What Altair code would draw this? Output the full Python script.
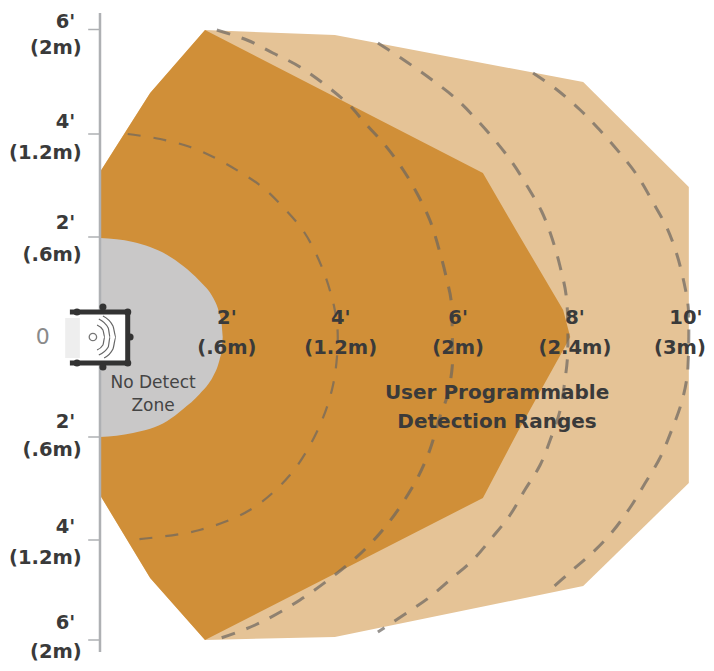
import altair as alt
import pandas as pd

# All distances in feet from the sensor (x: forward, y: lateral)
outer_x = [0, 0.85, 1.78, 3.98, 8.19, 9.98]
outer_top = [3.30, 4.88, 6.14, 6.04, 5.10, 3.00]
outer_bot = [-3.16, -4.82, -6.06, -6.00, -4.98, -2.92]

inner_x = [0, 0.85, 1.78, 6.49, 7.07, 7.85, 7.97]
inner_top = [3.30, 4.88, 6.14, 3.28, 2.10, 0.54, 0]
inner_bot = [-3.16, -4.82, -6.06, -3.22, -1.92, -0.26, 0]

zone_x = [0, 0.56, 1.14, 1.41, 1.69, 1.92, 1.99, 2.03, 2.06, 2.08]
zone_top = [1.98, 1.90, 1.64, 1.42, 1.12, 0.78, 0.60, 0.44, 0.28, 0]
zone_bot = [-2.0, -1.92, -1.68, -1.44, -1.14, -0.78, -0.60, -0.44, -0.28, 0]

arc4_x = [0.47, 1.02, 1.53, 1.92, 2.37, 2.75, 3.10, 3.47, 3.78, 3.98, 4.03, 3.95, 3.69, 3.22, 2.54, 1.69, 0.85, 0.46]
arc4_y = [4.06, 3.96, 3.80, 3.60, 3.30, 3.00, 2.60, 2.08, 1.34, 0.54, 0, -0.96, -1.86, -2.76, -3.46, -3.86, -4.02, -4.06]
arc6_x = [1.98, 2.49, 2.93, 3.39, 4.19, 4.49, 4.83, 5.14, 5.37, 5.59, 5.75, 5.88, 5.95, 5.97, 5.97, 5.88, 5.76, 5.59, 5.39, 5.14, 4.86, 4.53, 4.15, 3.39, 2.63, 1.95]
arc6_y = [6.14, 5.94, 5.68, 5.40, 4.68, 4.28, 3.84, 3.34, 2.88, 2.34, 1.74, 1.14, 0.74, 0.08, -0.60, -1.20, -1.60, -2.26, -2.80, -3.30, -3.76, -4.20, -4.60, -5.26, -5.76, -6.06]
arc8_x = [4.71, 5.20, 5.63, 6.02, 6.36, 6.69, 6.98, 7.25, 7.49, 7.66, 7.80, 7.90, 7.93, 7.92, 7.88, 7.80, 7.63, 7.46, 7.20, 6.95, 6.64, 6.32, 5.97, 5.59, 5.20, 4.71]
arc8_y = [5.88, 5.50, 5.14, 4.78, 4.38, 3.94, 3.50, 3.00, 2.50, 1.98, 1.40, 0.84, 0.14, -0.46, -0.86, -1.46, -2.06, -2.56, -3.06, -3.56, -4.02, -4.46, -4.82, -5.20, -5.52, -5.90]
arc10_x = [7.34, 7.75, 8.14, 8.47, 8.81, 9.10, 9.37, 9.61, 9.78, 9.90, 9.97, 9.98, 9.97, 9.95, 9.86, 9.69, 9.49, 9.24, 8.98, 8.68, 8.34, 7.97, 7.59]
arc10_y = [5.28, 4.94, 4.54, 4.14, 3.68, 3.24, 2.70, 2.18, 1.64, 1.08, 0.60, 0.08, -0.46, -0.80, -1.30, -1.86, -2.42, -2.92, -3.42, -3.90, -4.32, -4.70, -5.10]

tick_y = [6.15, 4.06, 2.0, -2.0, -4.06, -6.06]

side_text = ["6'", "(2m)", "4'", "(1.2m)", "2'", "(.6m)", "2'", "(.6m)", "4'", "(1.2m)", "6'", "(2m)"]
side_y = [6.30, 5.78, 4.30, 3.68, 2.28, 1.64, -1.70, -2.26, -3.80, -4.42, -5.72, -6.30]
side_x = [-0.42, -0.31, -0.42, -0.31, -0.42, -0.31, -0.42, -0.31, -0.42, -0.31, -0.42, -0.31]

range_text = ["2'", "(.6m)", "4'", "(1.2m)", "6'", "(2m)", "8'", "(2.4m)", "10'", "(3m)"]
range_x = [2.15, 2.15, 4.08, 4.08, 6.07, 6.07, 8.05, 8.05, 9.93, 9.83]
range_y = [0.38, -0.22, 0.38, -0.22, 0.38, -0.22, 0.38, -0.22, 0.38, -0.22]

note_text = ["User Programmable", "Detection Ranges"]
note_x = [6.73, 6.73]
note_y = [-1.12, -1.70]
zone_text = ["No Detect", "Zone"]
zone_tx = [0.90, 0.90]
zone_ty = [-0.92, -1.38]

# Sensor icon
frame_x = [-0.51, 0.47, 0.47, -0.51]
frame_y = [0.50, 0.50, -0.52, -0.52]
dot_x = [0.05, 0.05, 0.51, -0.39, -0.39, 0.47, 0.47]
dot_y = [0.60, -0.60, 0, 0.50, -0.52, 0.50, -0.52]
wave1_x = [-0.05, 0.05, 0.08, 0.05, -0.05]
wave1_y = [0.24, 0.14, 0, -0.16, -0.26]
wave2_x = [-0.02, 0.14, 0.17, 0.14, -0.02]
wave2_y = [0.36, 0.18, 0, -0.20, -0.36]
wave3_x = [0.05, 0.22, 0.27, 0.22, 0.07]
wave3_y = [0.42, 0.22, 0, -0.24, -0.42]

X = alt.X("x:Q", axis=None, scale=alt.Scale(domain=[-1.559, 10.271], nice=False, zero=False))
Y = alt.Y("y:Q", axis=None, scale=alt.Scale(domain=[-6.52, 6.58], nice=False, zero=False))
FONT = "DejaVu Sans"


def area(xs, top, bot, color, interp="linear"):
    df = pd.DataFrame({"x": xs, "y": top, "y2": bot})
    return alt.Chart(df).mark_area(color=color, orient="vertical", opacity=1, interpolate=interp).encode(x=X, y=Y, y2="y2:Q")


def path(xs, ys, color, width, dash=None, opacity=1.0, interp="linear"):
    df = pd.DataFrame({"x": xs, "y": ys, "i": range(len(xs))})
    kw = {"strokeDash": dash} if dash else {}
    return alt.Chart(df).mark_line(color=color, strokeWidth=width, opacity=opacity, interpolate=interp, **kw).encode(x=X, y=Y, order="i:Q")


def text(labels, xs, ys, size, color, align="center", weight="bold"):
    df = pd.DataFrame({"x": xs, "y": ys, "t": labels})
    return alt.Chart(df).mark_text(font=FONT, fontSize=size, color=color, align=align, baseline="middle", fontWeight=weight).encode(x=X, y=Y, text="t:N")


def box(x0, x1, y0, y1, color):
    df = pd.DataFrame({"x": [x0], "x2": [x1], "y": [y0], "y2": [y1]})
    return alt.Chart(df).mark_rect(color=color).encode(x=X, x2="x2:Q", y=Y, y2="y2:Q")


DASH = "#6b6560"
axis_rule = alt.Chart(pd.DataFrame({"x": [0], "y": [6.48], "y2": [-6.3]})).mark_rule(color="#aeb0b3", strokeWidth=2.5).encode(x=X, y=Y, y2="y2:Q")
ticks = alt.Chart(pd.DataFrame({"x": [-0.2] * 6, "x2": [0] * 6, "y": tick_y})).mark_rule(color="#aeb0b3", strokeWidth=1.5).encode(x=X, x2="x2:Q", y=Y)
dots = alt.Chart(pd.DataFrame({"x": dot_x, "y": dot_y})).mark_point(filled=True, color="#333333", size=50, opacity=1).encode(x=X, y=Y)
hub = alt.Chart(pd.DataFrame({"x": [-0.12], "y": [0]})).mark_point(filled=False, color="#777777", size=55, strokeWidth=1.3, opacity=1).encode(x=X, y=Y)

layers = [
    area(outer_x, outer_top, outer_bot, "#e5c396"),
    area(inner_x, inner_top, inner_bot, "#d08f38"),
    area(zone_x, zone_top, zone_bot, "#c9c8c8", "monotone"),
    axis_rule,
    ticks,
    path(arc4_x, arc4_y, DASH, 2.2, [13, 13], 0.7, "catmull-rom"),
    path(arc6_x, arc6_y, DASH, 3, [14, 12], 0.7, "catmull-rom"),
    path(arc8_x, arc8_y, DASH, 3, [14, 12], 0.7, "catmull-rom"),
    path(arc10_x, arc10_y, DASH, 3, [14, 12], 0.7, "catmull-rom"),
    box(-0.59, -0.34, 0.38, -0.42, "#eeeeee"),
    box(-0.34, 0.46, 0.46, -0.48, "#ffffff"),
    path(frame_x, frame_y, "#333333", 5),
    dots,
    hub,
    path(wave1_x, wave1_y, "#666666", 1.2, interp="monotone"),
    path(wave2_x, wave2_y, "#666666", 1.2, interp="monotone"),
    path(wave3_x, wave3_y, "#666666", 1.2, interp="monotone"),
    text(["0"], [-0.97], [0], 22, "#8a8a8a", weight="normal"),
    text(side_text, side_x, side_y, 19.5, "#3a3a3a", align="right"),
    text(range_text, range_x, range_y, 19.5, "#3a3a3a"),
    text(note_text, note_x, note_y, 20, "#3a3a3a"),
    text(zone_text, zone_tx, zone_ty, 17, "#444444", weight="normal"),
]

chart = alt.layer(*layers).properties(
    width=698, height=655, padding=0, autosize=alt.AutoSizeParams(type="none")
).configure_view(stroke=None)

chart.save("out.html", embed_options={"renderer": "svg", "actions": False})
